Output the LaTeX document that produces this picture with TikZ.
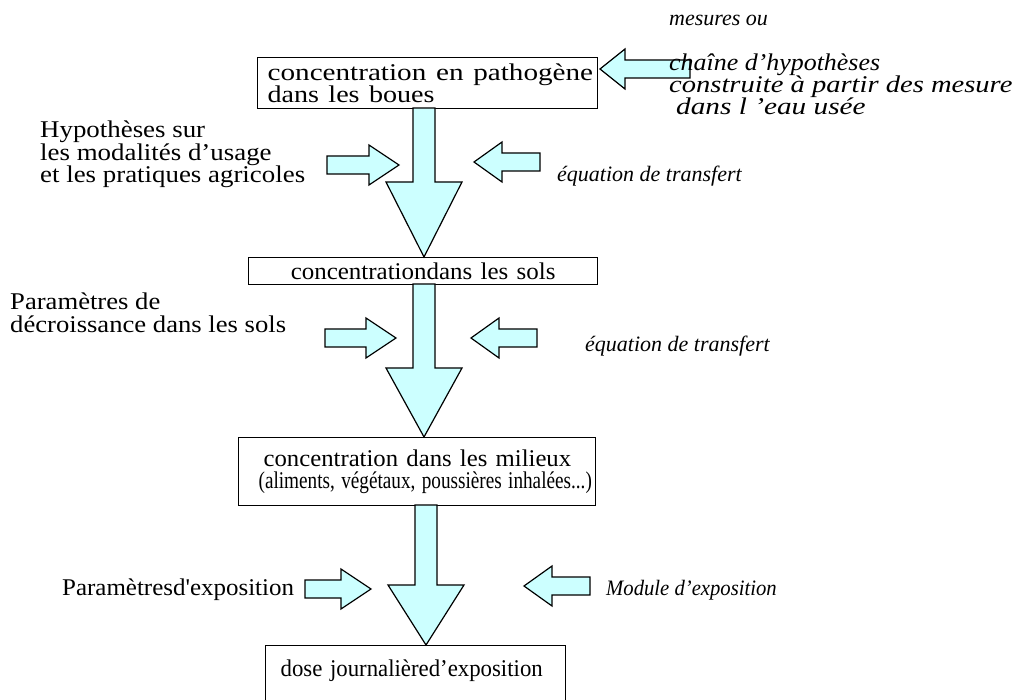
\documentclass[tikz,border=0pt]{standalone}
\usepackage{graphicx}
\usepackage{fontspec}
\setmainfont{Liberation Serif}
\definecolor{arrowfill}{RGB}{204,255,255}
% horizontally stretched text run
\newcommand{\hstretch}[2]{\scalebox{#1}[1]{#2}}
% straight typewriter-style apostrophe
\newcommand{\straightquote}{{\addfontfeatures{Ligatures=TeXOff}'}}
\newcommand{\downarrowshape}[6]{% centre x, top y, head base y, tip y, shaft half width, head half width
  \filldraw[blockarrow] (#1-#5,#2) -- (#1+#5,#2) -- (#1+#5,#3) -- (#1+#6,#3) -- (#1,#4)
    -- (#1-#6,#3) -- (#1-#5,#3) -- cycle;}
\newcommand{\sidearrowshape}[4]{% tail x, tip x, centre y, head length (sign gives direction)
  \filldraw[blockarrow] (#1,#3-9) -- (#2-#4,#3-9) -- (#2-#4,#3-20) -- (#2,#3) -- (#2-#4,#3+20)
    -- (#2-#4,#3+9) -- (#1,#3+9) -- cycle;}
\begin{document}
\begin{tikzpicture}[x=1pt,y=-1pt,
  txt/.style={font=\fontsize{24}{22.5}\selectfont, inner sep=0pt},
  box/.style={txt, draw, line width=1.3pt, anchor=north west, align=left},
  lbl/.style={txt, anchor=north west, align=left},
  note/.style={lbl, font=\fontsize{22}{22}\selectfont\itshape},
  bignote/.style={lbl, font=\fontsize{24}{22}\selectfont\itshape},
  blockarrow/.style={draw=black, fill=arrowfill, line width=1.2pt, line join=miter}]
\useasboundingbox (0,0) rectangle (1018,700);
\clip (0,0) rectangle (1018,700);

% boxes of the chain
\node[box, minimum width=340, minimum height=51, text width=340]
  (b1) at (257,57) {\hspace*{10pt}\hstretch{1.215}{concentration en pathogène}\\
                    \hspace*{10pt}\hstretch{1.17}{dans les boues}};
\node[box, minimum width=349, minimum height=27, text width=349, align=center]
  (b2) at (248,257) {\hstretch{1.04}{concentrationdans les sols}};
\node[box, minimum width=357, minimum height=68, text width=357]
  (b3) at (238,437) {\hspace*{25pt}\hstretch{1.03}{concentration dans les milieux}\\
                     \hspace*{20pt}\hstretch{0.80}{(aliments, végétaux, poussières inhalées...)}};
\node[box, minimum width=300, text width=300, text height=31, text depth=40]
  (b4) at (265,645) {\hspace*{15pt}\hstretch{0.95}{dose journalièred’exposition}};

% downward flow arrows
\downarrowshape{424}{108}{182}{257}{11}{38}
\downarrowshape{424}{284}{368}{437}{11}{38}
\downarrowshape{426}{505}{585}{645}{11}{38}

% side arrows
\sidearrowshape{690}{600}{69}{-25}
\sidearrowshape{327}{399}{165}{30}
\sidearrowshape{540}{474}{162}{-28}
\sidearrowshape{325}{396}{338}{30}
\sidearrowshape{537}{471}{338}{-28}
\sidearrowshape{305}{371}{589}{30}
\sidearrowshape{590}{524}{586}{-28}

% inputs on the left
\node[lbl] (h1) at (40,121) {\hstretch{1.12}{Hypothèses sur}\\
                             \hstretch{1.12}{les modalités d’usage}\\
                             \hstretch{1.12}{et les pratiques agricoles}};
\node[lbl] (p1) at (10,293) {\hstretch{1.11}{Paramètres de}\\
                             \hstretch{1.11}{décroissance dans les sols}};
\node[lbl, anchor=west] (p2) at (62,590) {\hstretch{1.04}{Paramètresd\straightquote exposition}};

% models on the right
\node[note, anchor=west] (m0) at (669,20) {mesures ou};
\node[bignote] (m1) at (669,54) {\hstretch{1.08}{chaîne d’hypothèses}\\
                                 \hstretch{1.19}{construite à partir des mesure}\\
                                 \hspace*{7pt}\hstretch{1.22}{dans l ’eau usée}};
\node[note, anchor=west] (e1) at (557,176) {équation de transfert};
\node[note, anchor=west] (e2) at (585,346) {équation de transfert};
\node[note, anchor=west] (e3) at (606,590) {\hstretch{0.94}{Module d’exposition}};
\end{tikzpicture}
\end{document}
